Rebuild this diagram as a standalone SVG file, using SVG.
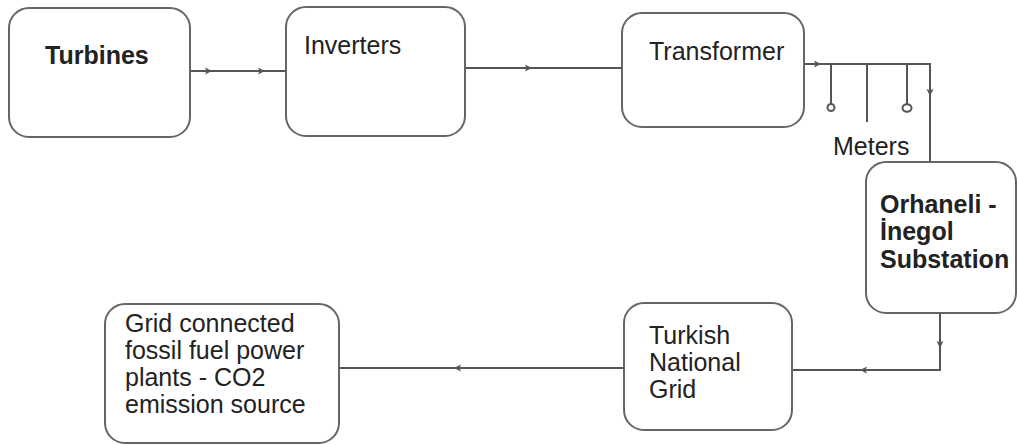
<svg xmlns="http://www.w3.org/2000/svg" xmlns:xlink="http://www.w3.org/1999/xlink" width="1017" height="445" viewBox="0 0 1017 445">
<style>
.box{fill:#fff;stroke:#666;stroke-width:2}
.ln{fill:none;stroke:#555;stroke-width:2}
.t{font-family:"Liberation Sans",Arial,sans-serif;font-size:25px;fill:#222}
.b{font-weight:bold}
.ah{fill:#555}
</style>
<defs>
<path id="ah" d="M-4,-3.5 L3,0 L-4,3.5 L-2.5,0 Z"/>
</defs>
<rect width="1017" height="445" fill="#fff"/>
<g id="connectors">
<path class="ln" d="M190,71 H286"/>
<path class="ln" d="M465,68 H622"/>
<path class="ln" d="M804,64 H930 V162"/>
<path class="ln" d="M831,64 V104"/>
<circle class="ln" cx="831" cy="107.5" r="3.5" stroke-width="1.8"/>
<path class="ln" d="M867,64 V122"/>
<path class="ln" d="M907,64 V104"/>
<ellipse class="ln" cx="907" cy="108" rx="4.5" ry="3.8" stroke-width="1.8"/>
<path class="ln" d="M940,313 V370 H792"/>
<path class="ln" d="M624,368 H339"/>
<use href="#ah" class="ah" transform="translate(209,71)"/>
<use href="#ah" class="ah" transform="translate(262,71)"/>
<use href="#ah" class="ah" transform="translate(529,68)"/>
<use href="#ah" class="ah" transform="translate(818,64)"/>
<use href="#ah" class="ah" transform="translate(930,93) rotate(90)"/>
<use href="#ah" class="ah" transform="translate(940,345) rotate(90)"/>
<use href="#ah" class="ah" transform="translate(863,370) rotate(180)"/>
<use href="#ah" class="ah" transform="translate(457,368) rotate(180)"/>
</g>
<g id="turbines">
<rect class="box" x="9" y="8" width="181" height="129" rx="20"/>
<text class="t b" x="45" y="64">Turbines</text>
</g>
<g id="inverters">
<rect class="box" x="286" y="7" width="179" height="129" rx="20"/>
<text class="t" x="304" y="54">Inverters</text>
</g>
<g id="transformer">
<rect class="box" x="622" y="13" width="182" height="114" rx="20"/>
<text class="t" x="649" y="60">Transformer</text>
</g>
<g id="meters">
<text class="t" x="833" y="155">Meters</text>
</g>
<g id="substation">
<rect class="box" x="866" y="162" width="150" height="151" rx="20"/>
<text class="t b" x="880" y="213">Orhaneli -</text>
<text class="t b" x="880" y="240">İnegol</text>
<text class="t b" x="880" y="268">Substation</text>
</g>
<g id="national-grid">
<rect class="box" x="624" y="303" width="168" height="127" rx="20"/>
<text class="t" x="649" y="344">Turkish</text>
<text class="t" x="649" y="371">National</text>
<text class="t" x="649" y="398">Grid</text>
</g>
<g id="fossil">
<rect class="box" x="105" y="304" width="234" height="139" rx="20"/>
<text class="t" x="125" y="332">Grid connected</text>
<text class="t" x="125" y="359">fossil fuel power</text>
<text class="t" x="125" y="386">plants - CO2</text>
<text class="t" x="125" y="413">emission source</text>
</g>
</svg>
